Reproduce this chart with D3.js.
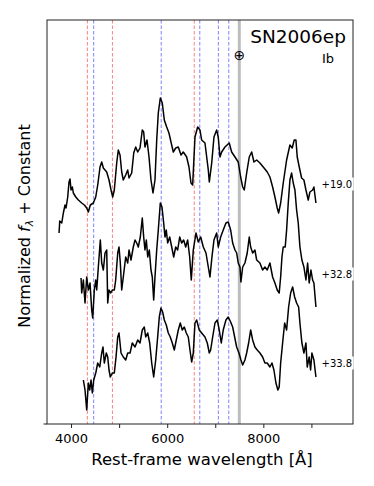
<!DOCTYPE html>
<html>
<head>
<meta charset="utf-8">
<script src="https://cdn.jsdelivr.net/npm/d3@7"></script>
<style>
  body { margin: 0; background: #fff; }
  text { font-family: "DejaVu Sans", sans-serif; }
</style>
</head>
<body>
<svg></svg>
<script>

// spectra: wavelength [A] and normalized flux + constant
var wave1 = [3751,3765,3807,3840,3875,3896,3931,3958,3979,4000,4027,4048,4098,4152,4222,4277,4326,4360,4401,4464,4514,4555,4603,4638,4672,4742,4790,4832,4867,4900,4950,4983,5019,5054,5087,5137,5179,5206,5262,5304,5345,5387,5435,5482,5511,5538,5580,5622,5663,5705,5746,5782,5815,5857,5898,5940,5990,6037,6079,6127,6177,6231,6287,6335,6405,6453,6495,6530,6578,6634,6682,6717,6786,6855,6876,6926,6973,7029,7062,7098,7133,7202,7291,7341,7410,7478,7528,7570,7603,7653,7707,7757,7805,7861,7929,7998,8081,8137,8193,8241,8289,8318,8360,8414,8484,8553,8601,8642,8678,8705,8747,8796,8844,8886,8934,8969,9025,9052,9094];
var flux1 = [1.91,2.03,2.01,2.11,2.19,2.16,2.27,2.42,2.45,2.34,2.37,2.31,2.27,2.24,2.21,2.19,2.16,2.12,2.19,2.21,2.27,2.39,2.57,2.62,2.56,2.52,2.44,2.34,2.27,2.34,2.61,2.74,2.69,2.52,2.44,2.49,2.54,2.46,2.51,2.71,2.77,2.72,2.76,2.94,2.92,2.77,2.84,2.67,2.44,2.31,2.44,2.84,3.11,3.26,3.21,3.04,2.97,2.91,2.82,2.72,2.76,2.77,2.69,2.72,2.67,2.57,2.41,2.39,2.87,2.97,2.94,2.84,2.81,2.54,2.42,2.61,2.87,2.94,2.87,2.67,2.72,2.77,2.81,2.72,2.67,2.62,2.47,2.37,2.34,2.51,2.67,2.72,2.62,2.64,2.61,2.57,2.52,2.47,2.37,2.27,2.16,2.11,2.21,2.41,2.64,2.79,2.76,2.84,2.84,2.67,2.57,2.46,2.44,2.34,2.24,2.32,2.34,2.37,2.21];

var wave2 = [4208,4222,4256,4291,4326,4360,4395,4430,4451,4484,4514,4534,4568,4609,4638,4672,4707,4742,4763,4790,4825,4859,4900,4929,4971,4998,5025,5054,5087,5137,5179,5206,5247,5295,5331,5366,5399,5441,5482,5511,5538,5566,5595,5628,5663,5690,5719,5746,5782,5815,5857,5892,5927,5954,5981,6010,6052,6094,6135,6177,6218,6260,6301,6343,6385,6426,6468,6501,6543,6599,6647,6697,6751,6807,6855,6890,6931,6973,7029,7062,7112,7166,7222,7270,7320,7362,7410,7445,7478,7514,7534,7570,7617,7665,7707,7736,7778,7825,7861,7929,7985,8033,8081,8137,8193,8241,8289,8330,8360,8387,8414,8455,8484,8518,8553,8588,8622,8657,8692,8726,8761,8802,8844,8886,8921,8954,8990,9025,9052,9094];
var flux2 = [1.46,1.31,1.44,1.21,1.47,1.34,1.41,1.14,1.06,1.34,1.44,1.34,1.57,1.84,1.61,1.54,1.71,1.74,1.21,1.34,1.31,1.34,1.34,1.44,1.71,1.77,1.61,1.34,1.47,1.67,1.61,1.74,1.64,1.77,1.84,1.81,1.77,1.87,2.06,1.87,1.74,1.84,1.67,1.74,1.54,1.47,1.24,1.47,1.74,1.94,2.21,2.17,2.01,1.87,1.94,1.81,1.87,1.77,1.67,1.77,1.74,1.87,1.81,1.84,1.77,1.84,1.67,1.44,1.74,1.91,1.82,1.87,1.77,1.71,1.57,1.47,1.67,1.84,1.91,1.77,1.87,1.94,2.01,2.02,1.94,1.81,1.74,1.71,1.61,1.57,1.42,1.57,1.61,1.71,1.87,1.77,1.71,1.74,1.64,1.61,1.54,1.57,1.54,1.61,1.47,1.41,1.34,1.31,1.47,1.67,1.77,1.77,1.94,2.21,2.44,2.51,2.41,2.34,2.14,2.01,1.77,1.64,1.57,1.44,1.61,1.41,1.54,1.44,1.41,1.17];

var wave3 = [4256,4291,4326,4360,4389,4416,4443,4472,4514,4555,4597,4638,4665,4692,4734,4763,4790,4817,4859,4900,4936,4971,4998,5040,5087,5137,5179,5227,5274,5331,5387,5435,5482,5524,5553,5595,5636,5678,5719,5761,5802,5836,5871,5906,5940,5981,6023,6064,6106,6148,6189,6231,6272,6314,6356,6397,6439,6474,6509,6543,6578,6613,6667,6717,6786,6834,6876,6904,6946,6994,7042,7083,7125,7166,7222,7270,7320,7362,7403,7445,7493,7534,7570,7617,7653,7694,7736,7778,7825,7873,7929,7985,8033,8081,8137,8179,8220,8262,8303,8330,8360,8401,8443,8484,8526,8568,8609,8651,8692,8734,8761,8802,8844,8886,8913,8954,8983,9010,9052,9094];
var flux3 = [0.44,0.34,0.14,0.41,0.34,0.44,0.31,0.44,0.51,0.61,0.57,0.71,0.77,0.61,0.71,0.67,0.54,0.47,0.51,0.51,0.67,0.87,0.91,0.71,0.67,0.64,0.71,0.71,0.81,0.77,0.84,0.81,0.94,0.97,0.87,0.91,0.81,0.61,0.47,0.64,0.87,1.07,1.16,1.12,1.04,0.99,0.91,0.87,0.81,0.74,0.84,0.94,1.01,0.94,0.97,0.91,0.87,0.74,0.62,0.71,1.01,1.04,0.94,0.91,0.87,0.81,0.71,0.74,0.87,1.01,1.04,0.94,0.81,0.94,1.04,1.07,1.02,0.97,0.87,0.77,0.71,0.64,0.59,0.64,0.71,0.81,0.94,0.84,0.77,0.74,0.71,0.67,0.61,0.61,0.57,0.61,0.54,0.41,0.34,0.37,0.61,0.81,1.01,0.94,1.17,1.31,1.37,1.27,1.21,1.17,1.01,0.81,0.71,0.81,0.57,0.67,0.54,0.71,0.64,0.47];

var phases = ["+19.0", "+32.8", "+33.8"];
var phaseY = [2.40, 1.50, 0.61];

// line markers
var hLines = [4340, 4861, 6563];
var heLines = [4471, 5876, 6678, 7065, 7281];
var telluric = 7500;

var xTicks = [4000, 5000, 6000, 7000, 8000, 9000];
var xTickLabels = [4000, 6000, 8000];

var svgwidth = 374;
var svgheight = 486;
var margins = {top: 20, bottom: 62, left: 47, right: 21};
var width = svgwidth - margins.left - margins.right;
var height = svgheight - margins.top - margins.bottom;

var svg = d3.select('svg').attr('width', svgwidth).attr('height', svgheight);

var xScale = d3.scaleLinear().domain([3500, 9865]).range([0, width]);
var yScale = d3.scaleLinear().domain([0, 4.04]).range([height, 0]);

var plot = svg.append('g')
   .attr('transform', 'translate(' + margins.left + ',' + margins.top + ')');

// telluric band
plot.append('line')
    .attr('x1', xScale(telluric)).attr('x2', xScale(telluric))
    .attr('y1', 0).attr('y2', height)
    .attr('stroke', '#bdbdbd').attr('stroke-width', 3);

plot.selectAll('line.h')
    .data(hLines).enter().append('line').classed('h', true)
    .attr('x1', function(d){ return xScale(d); })
    .attr('x2', function(d){ return xScale(d); })
    .attr('y1', 0).attr('y2', height)
    .attr('stroke', '#ff8080').attr('stroke-width', 1)
    .attr('stroke-dasharray', '3.5,2');

plot.selectAll('line.he')
    .data(heLines).enter().append('line').classed('he', true)
    .attr('x1', function(d){ return xScale(d); })
    .attr('x2', function(d){ return xScale(d); })
    .attr('y1', 0).attr('y2', height)
    .attr('stroke', '#8080ff').attr('stroke-width', 1)
    .attr('stroke-dasharray', '3.5,2');

var spectra = [[wave1, flux1], [wave2, flux2], [wave3, flux3]];

var line = d3.line()
    .x(function(d){ return xScale(d[0]); })
    .y(function(d){ return yScale(d[1]); });

plot.selectAll('path.spec')
    .data(spectra).enter().append('path').classed('spec', true)
    .attr('d', function(s){ return line(d3.zip(s[0], s[1])); })
    .attr('fill', 'none')
    .attr('stroke', '#000')
    .attr('stroke-width', 1.5)
    .attr('stroke-linejoin', 'round');

// frame
plot.append('rect')
    .attr('width', width).attr('height', height)
    .attr('fill', 'none').attr('stroke', '#222').attr('stroke-width', 1);

// phase labels with white box
var labels = plot.selectAll('g.phase')
    .data(phases).enter().append('g').classed('phase', true);

labels.append('text')
    .attr('x', xScale(9210))
    .attr('y', function(d, i){ return yScale(phaseY[i]); })
    .attr('dy', '0.35em')
    .attr('font-size', 10)
    .text(function(d){ return d; });

labels.each(function(){
  var g = d3.select(this);
  var b = g.select('text').node().getBBox();
  g.insert('rect', 'text')
   .attr('x', b.x - 1.5).attr('y', b.y - 1)
   .attr('width', b.width + 3).attr('height', b.height + 2)
   .attr('fill', '#fff');
});

// x axis
var xAxis = d3.axisBottom(xScale)
    .tickValues(xTicks)
    .tickSize(4)
    .tickFormat(function(d){ return xTickLabels.indexOf(d) >= 0 ? d : ''; });

var gx = svg.append('g')
   .attr('transform', 'translate(' + margins.left + ',' + (margins.top + height) + ')')
   .call(xAxis);
gx.select('.domain').remove();
gx.selectAll('text').attr('font-size', 13).attr('font-family', 'DejaVu Sans').attr('fill', '#000').attr('dy', '0.95em');
gx.selectAll('line').attr('stroke', '#222');

// y tick at bottom
svg.append('line')
   .attr('x1', margins.left - 3.5).attr('x2', margins.left)
   .attr('y1', margins.top + height).attr('y2', margins.top + height)
   .attr('stroke', '#222');

svg.append('text')
   .attr('x', margins.left + width / 2 + 2)
   .attr('y', 465)
   .attr('text-anchor', 'middle')
   .attr('font-size', 16.5)
   .text('Rest-frame wavelength [Å]');

var ylab = svg.append('text')
   .attr('transform', 'translate(30,' + (margins.top + height / 2 + 4) + ') rotate(-90)')
   .attr('text-anchor', 'middle')
   .attr('font-size', 16);
ylab.append('tspan').text('Normalized ');
ylab.append('tspan').attr('font-style', 'italic').text('f');
ylab.append('tspan').attr('font-size', 11).attr('dy', 3).attr('font-style', 'italic').text('λ');
ylab.append('tspan').attr('dy', -3).text(' + Constant');

svg.append('text')
   .attr('x', 346).attr('y', 43)
   .attr('text-anchor', 'end')
   .attr('font-size', 18.5)
   .text('SN2006ep');

svg.append('text')
   .attr('x', 334).attr('y', 63)
   .attr('text-anchor', 'end')
   .attr('font-size', 13)
   .text('Ib');

svg.append('text')
   .attr('x', margins.left + xScale(telluric))
   .attr('y', 60)
   .attr('text-anchor', 'middle')
   .attr('font-size', 14)
   .text('⊕');

</script>
</body>
</html>
